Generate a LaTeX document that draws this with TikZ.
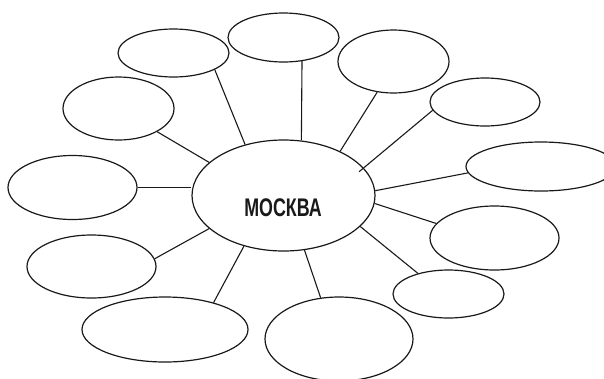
\documentclass[tikz,border=0pt]{standalone}
\usepackage{fontspec}
\setmainfont{Liberation Sans}
\usetikzlibrary{shapes.geometric}
\tikzset{
  bub/.style={draw=black!90, ellipse, inner sep=0pt, line width=1.2pt},
  link/.style={draw=black!90, line width=1.1pt},
  title/.style={inner sep=0pt, text=black!90}
}
\begin{document}
\begin{tikzpicture}[x=1pt,y=-1pt]
\useasboundingbox (0,0) rectangle (604,378);
\begin{scope}
\clip (0,0) rectangle (604,378);
% centre
\node[bub, minimum width=183pt, minimum height=111pt] (C) at (283.5,195.5) {};
\node[title] (T) at (283,208) {\scalebox{0.7}[1]{\fontsize{25.5}{25.5}\selectfont\bfseries МОСКВА}};
% outer bubbles
\node[bub, minimum width=111pt, minimum height=48pt] (E1) at (173.5,53) {};
\node[bub, minimum width=111pt, minimum height=49pt] (E2) at (283.5,37.5) {};
\node[bub, minimum width=111pt, minimum height=63pt] (E3) at (393.5,61.5) {};
\node[bub, minimum width=110pt, minimum height=48pt] (E4) at (485,102) {};
\node[bub, minimum width=150pt, minimum height=49pt] (E5) at (541,166.5) {};
\node[bub, minimum width=129pt, minimum height=64pt] (E6) at (494.5,238) {};
\node[bub, minimum width=111pt, minimum height=48pt] (E7) at (448.5,294) {};
\node[bub, minimum width=148pt, minimum height=84pt] (E8) at (339,339) {};
\node[bub, minimum width=166pt, minimum height=65pt] (E9) at (165,329.5) {};
\node[bub, minimum width=129pt, minimum height=63pt] (E10) at (91.5,266.5) {};
\node[bub, minimum width=129pt, minimum height=64pt] (E11) at (72.5,187.5) {};
\node[bub, minimum width=111pt, minimum height=63pt] (E12) at (118.5,108.5) {};
% connectors
\draw[link] (E1.-22.3) -- (C.127.1);
\draw[link] (E2.-52) -- (C.72);
\draw[link] (E3.-118.9) -- (C.38.1);
\draw[link, shorten >=-6pt] (E4.189.3) -- (C.19.1);
\draw[link] (E5.185.7) -- (C.3.4);
\draw[link] (E6.166.1) -- (C.-5.3);
\draw[link] (E7.146.7) -- (C.-22.9);
\draw[link] (E8.114.9) -- (C.-69.7);
\draw[link] (E9.29) -- (C.-128.1);
\draw[link] (E10.7.5) -- (C.-156.8);
\draw[link] (E11.east) -- (E11.east -| C.west);
\draw[link] (E12.-31.4) -- (C.156.1);
\end{scope}
\end{tikzpicture}
\end{document}
